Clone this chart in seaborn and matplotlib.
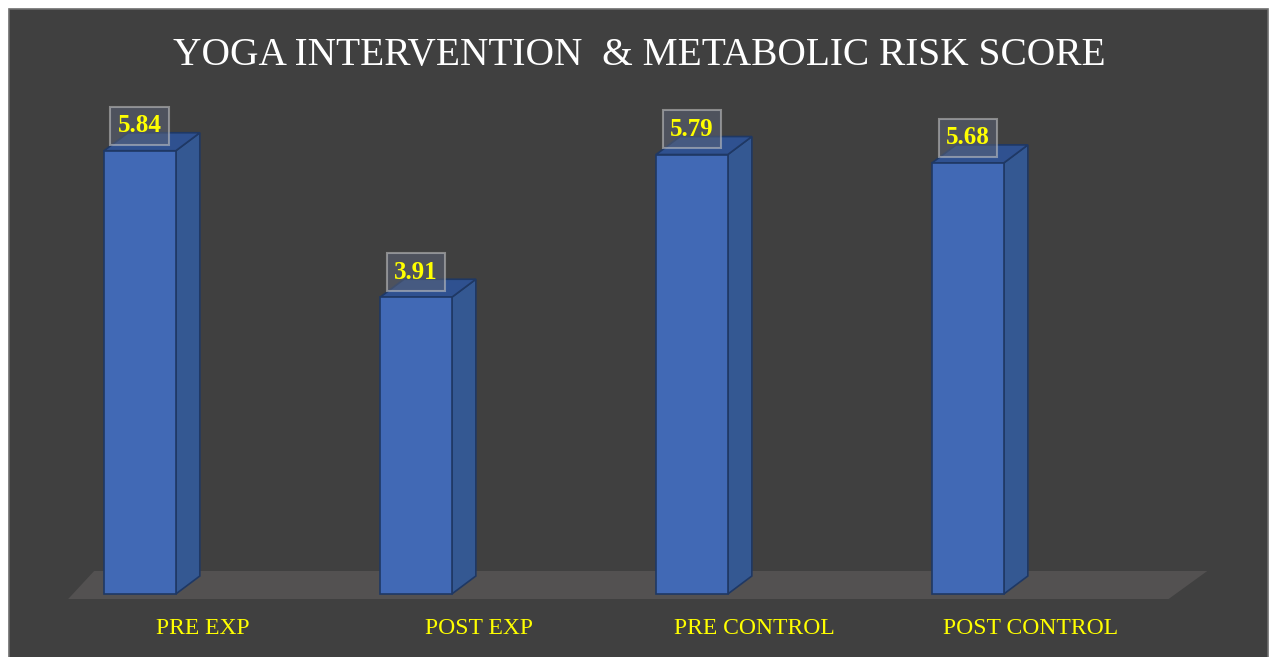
import numpy as np
import pandas as pd
import matplotlib
matplotlib.use("Agg")
import matplotlib.pyplot as plt
from matplotlib.patches import Polygon, Rectangle
import seaborn as sns

# Dados
categorias = ["PRE EXP", "POST EXP", "PRE CONTROL", "POST CONTROL"]
valores = [5.84, 3.91, 5.79, 5.68]
titulo = "YOGA INTERVENTION  & METABOLIC RISK SCORE"

# Cores
FUNDO = "#404040"
FRENTE = "#4169b5"
LADO = "#345892"
TOPO = "#2f5190"
BORDA = "#1f3864"
PISO = "#535151"
AMARELO = "#ffff00"
SERIF = ["Liberation Serif", "DejaVu Serif"]

sns.set_theme(style="white")
plt.rcParams["font.family"] = SERIF

fig = plt.figure(figsize=(12.71, 6.57), dpi=100)
fig.patch.set_facecolor("white")
fig.patches.append(Rectangle((9 / 1271, -0.02), 1259 / 1271, 648 / 657 + 0.02,
                             transform=fig.transFigure, facecolor=FUNDO,
                             edgecolor="#6e6e6e", linewidth=1.2, zorder=-5))

ax = fig.add_axes([0, 0, 1, 1])
ax.set_facecolor("none")

df = pd.DataFrame({"grupo": categorias, "valor": valores})
largura = 0.26
sns.barplot(data=df, x="grupo", y="valor", ax=ax, width=largura,
            color=FRENTE, saturation=1, edgecolor=BORDA, linewidth=1.2,
            zorder=3)
bars = list(ax.patches)

ax.set_xlim(-0.507, 4.098)
ax.set_ylim(-0.83, 7.826)

# profundidade 3D
dx, dy = 0.087, 0.237

# piso
x0 = bars[0].get_x() - 0.13
x1 = bars[-1].get_x() + largura + 0.597
piso = Polygon([(x0, -0.066), (x1, -0.066),
                (x1 + 0.14, 0.303), (x0 + 0.094, 0.303)],
               closed=True, facecolor=PISO, edgecolor="none", zorder=1)
ax.add_patch(piso)

for b in bars:
    x, w, h = b.get_x(), b.get_width(), b.get_height()
    lado = Polygon([(x + w, 0), (x + w + dx, dy), (x + w + dx, h + dy), (x + w, h)],
                   closed=True, facecolor=LADO, edgecolor=BORDA, linewidth=1.2,
                   zorder=2.9)
    topo = Polygon([(x, h), (x + w, h), (x + w + dx, h + dy), (x + dx, h + dy)],
                   closed=True, facecolor=TOPO, edgecolor=BORDA, linewidth=1.2,
                   zorder=2.9)
    ax.add_patch(lado)
    ax.add_patch(topo)
    ax.text(x + w / 2, h + 0.33, f"{h:.2f}", ha="center", va="center",
            fontsize=18, fontweight="bold", color=AMARELO, zorder=5,
            bbox={"boxstyle": "square,pad=0.3", "facecolor": "#5a6275",
                  "alpha": 0.55, "edgecolor": "#c8c8c8", "linewidth": 1.5})

# rótulos do eixo x
deslocamento = 0.228
for i, nome in enumerate(categorias):
    ax.text(i + deslocamento, -0.45, nome, ha="center", va="center",
            fontsize=17, color=AMARELO)
ax.set_xticks([])
ax.set_yticks([])
ax.set_xlabel("")
ax.set_ylabel("")
for s in ax.spines.values():
    s.set_visible(False)

fig.text(639 / 1271, 1 - 55 / 657, titulo, ha="center", va="center",
         fontsize=28.4, color="white")

fig.savefig("out.png", dpi=100, facecolor=fig.get_facecolor())
